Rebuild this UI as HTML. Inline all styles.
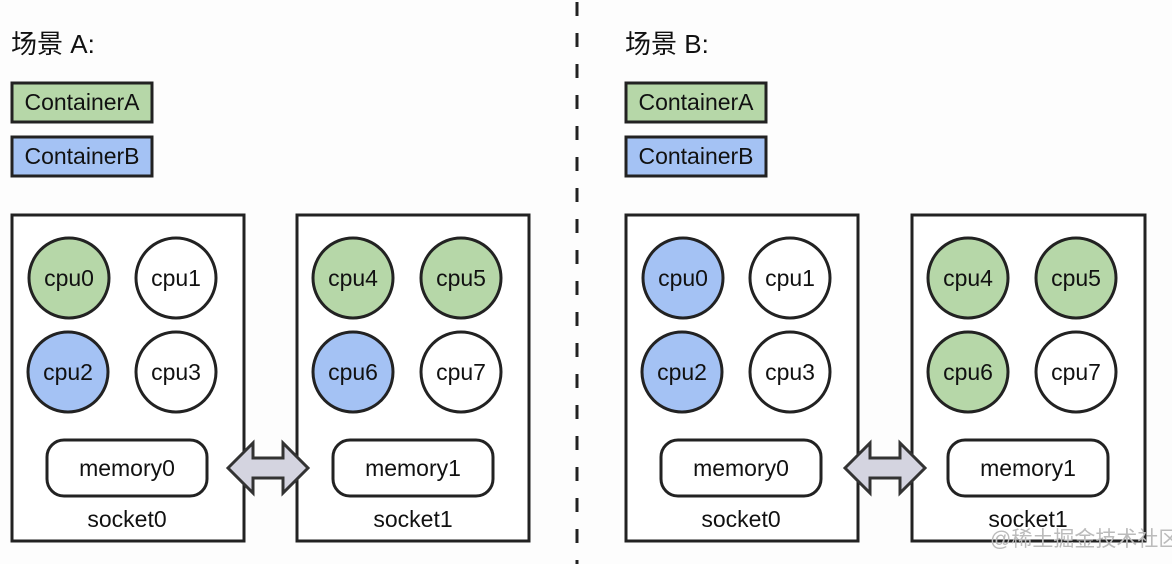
<!DOCTYPE html>
<html><head><meta charset="utf-8"><style>
html,body{margin:0;padding:0;background:#fdfdfd;}
svg{display:block;}
text{font-family:"Liberation Sans","Noto Sans CJK SC",sans-serif;fill:#111;}
</style></head><body>
<svg width="1172" height="564" viewBox="0 0 1172 564" xmlns="http://www.w3.org/2000/svg">
<rect width="1172" height="564" fill="#fdfdfd"/>
<line x1="577" y1="2" x2="577" y2="564" stroke="#222" stroke-width="3" stroke-dasharray="14 17"/>
<defs>
<g id="arrow">
<polygon points="0,0 25,-25 25,-10 55,-10 55,-25 80,0 55,25 55,10 25,10 25,25" fill="#d4d4e0" stroke="#333" stroke-width="3" stroke-linejoin="miter"/>
</g>
</defs>
<!-- panel A -->
<g>
<text x="11" y="53" font-size="26">场景 A:</text>
<rect x="12" y="83" width="140" height="39" fill="#b6d7a8" stroke="#222" stroke-width="3"/>
<text x="82" y="110" font-size="23" text-anchor="middle">ContainerA</text>
<rect x="12" y="137" width="140" height="39" fill="#a4c2f4" stroke="#222" stroke-width="3"/>
<text x="82" y="164" font-size="23" text-anchor="middle">ContainerB</text>
<rect x="12" y="215" width="232" height="326" fill="#fff" stroke="#222" stroke-width="3"/>
<rect x="297" y="215" width="232" height="326" fill="#fff" stroke="#222" stroke-width="3"/>
<g stroke="#222" stroke-width="3">
<circle cx="69" cy="278" r="40" fill="#b6d7a8"/>
<circle cx="176" cy="278" r="40" fill="#fff"/>
<circle cx="68" cy="372" r="40" fill="#a4c2f4"/>
<circle cx="176" cy="372" r="40" fill="#fff"/>
<circle cx="353" cy="278" r="40" fill="#b6d7a8"/>
<circle cx="461" cy="278" r="40" fill="#b6d7a8"/>
<circle cx="353" cy="372" r="40" fill="#a4c2f4"/>
<circle cx="461" cy="372" r="40" fill="#fff"/>
<rect x="47" y="440" width="160" height="56" rx="17" fill="#fff"/>
<rect x="333" y="440" width="160" height="56" rx="17" fill="#fff"/>
</g>
<g font-size="23" text-anchor="middle">
<text x="69" y="286">cpu0</text><text x="176" y="286">cpu1</text>
<text x="68" y="380">cpu2</text><text x="176" y="380">cpu3</text>
<text x="353" y="286">cpu4</text><text x="461" y="286">cpu5</text>
<text x="353" y="380">cpu6</text><text x="461" y="380">cpu7</text>
<text x="127" y="476">memory0</text><text x="413" y="476">memory1</text>
<text x="127" y="527">socket0</text><text x="413" y="527">socket1</text>
</g>
<use href="#arrow" x="228" y="468"/>
</g>
<!-- panel B -->
<g transform="translate(614,0)">
<text x="11" y="53" font-size="26">场景 B:</text>
<rect x="12" y="83" width="140" height="39" fill="#b6d7a8" stroke="#222" stroke-width="3"/>
<text x="82" y="110" font-size="23" text-anchor="middle">ContainerA</text>
<rect x="12" y="137" width="140" height="39" fill="#a4c2f4" stroke="#222" stroke-width="3"/>
<text x="82" y="164" font-size="23" text-anchor="middle">ContainerB</text>
<rect x="12" y="215" width="232" height="326" fill="#fff" stroke="#222" stroke-width="3"/>
<rect x="298" y="215" width="233" height="326" fill="#fff" stroke="#222" stroke-width="3"/>
<g stroke="#222" stroke-width="3">
<circle cx="69" cy="278" r="40" fill="#a4c2f4"/>
<circle cx="176" cy="278" r="40" fill="#fff"/>
<circle cx="68" cy="372" r="40" fill="#a4c2f4"/>
<circle cx="176" cy="372" r="40" fill="#fff"/>
<circle cx="354" cy="278" r="40" fill="#b6d7a8"/>
<circle cx="462" cy="278" r="40" fill="#b6d7a8"/>
<circle cx="354" cy="372" r="40" fill="#b6d7a8"/>
<circle cx="462" cy="372" r="40" fill="#fff"/>
<rect x="47" y="440" width="160" height="56" rx="17" fill="#fff"/>
<rect x="334" y="440" width="160" height="56" rx="17" fill="#fff"/>
</g>
<g font-size="23" text-anchor="middle">
<text x="69" y="286">cpu0</text><text x="176" y="286">cpu1</text>
<text x="68" y="380">cpu2</text><text x="176" y="380">cpu3</text>
<text x="354" y="286">cpu4</text><text x="462" y="286">cpu5</text>
<text x="354" y="380">cpu6</text><text x="462" y="380">cpu7</text>
<text x="127" y="476">memory0</text><text x="414" y="476">memory1</text>
<text x="127" y="527">socket0</text><text x="414" y="527">socket1</text>
</g>
<use href="#arrow" x="231" y="468"/>
</g>
<text x="990" y="546" font-size="21" style="fill:#bbb">@稀土掘金技术社区</text>
</svg>
</body></html>
